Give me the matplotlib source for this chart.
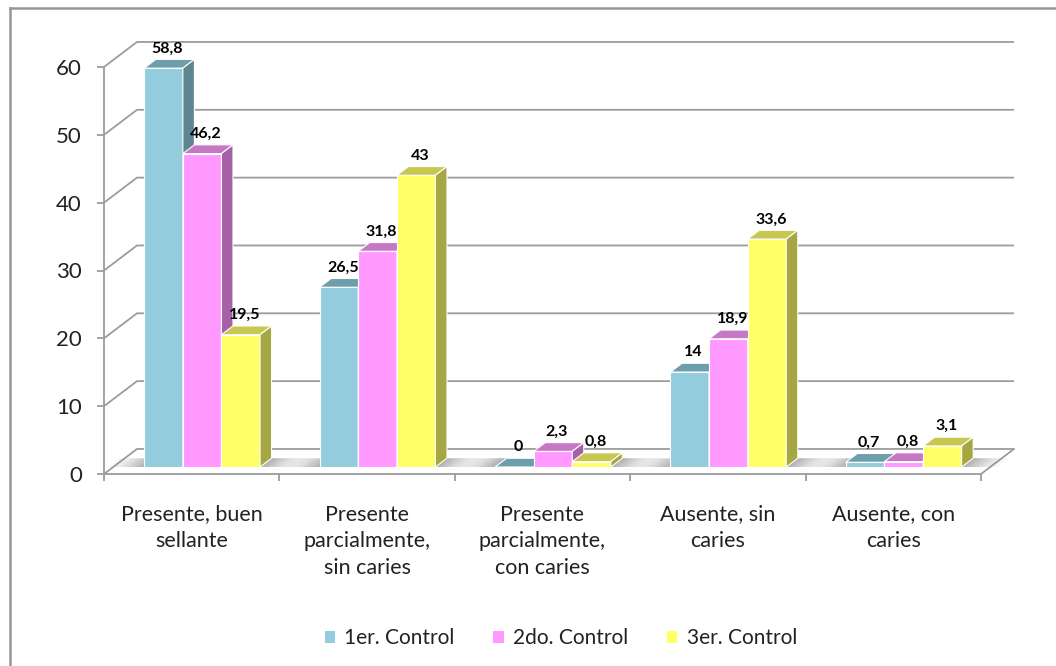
import matplotlib
matplotlib.use("Agg")
import matplotlib.pyplot as plt
from matplotlib.patches import Polygon, Patch
from matplotlib.lines import Line2D

# ---- data -------------------------------------------------------------
categories = [
    "Presente, buen\nsellante",
    "Presente\nparcialmente,\nsin caries",
    "Presente\nparcialmente,\ncon caries",
    "Ausente, sin\ncaries",
    "Ausente, con\ncaries",
]
series_names = ["1er. Control", "2do. Control", "3er. Control"]
control_1 = [58.8, 26.5, 0.0, 14.0, 0.7]
control_2 = [46.2, 31.8, 2.3, 18.9, 0.8]
control_3 = [19.5, 43.0, 0.8, 33.6, 3.1]
y_ticks = [0, 10, 20, 30, 40, 50, 60]

series_values = [control_1, control_2, control_3]

# ---- style ------------------------------------------------------------
front_colors = ["#93CDDD", "#FF99FF", "#FFFF66"]
top_colors = ["#6C9FAB", "#C678C6", "#C8C850"]
side_colors = ["#5E8690", "#A660A6", "#A6A642"]
grid_color = "#9C9C9C"
text_color = "#222222"
FONT = "Lato"

plt.rcParams["font.family"] = [FONT, "DejaVu Sans"]

# oblique projection of the depth axis (in data units)
DX = 0.188          # category units for full depth
DY = 3.69           # value units for full depth
F0, F1 = 0.28, 0.63  # depth range occupied by the columns
BAR_W = 0.22
GROUP_LEFT = 0.177

fig = plt.figure(figsize=(10.56, 6.66), dpi=100)
ax = fig.add_axes([104 / 1056, 192 / 666, 877 / 1056, 407 / 666])
ax.set_xlim(0, 5)
ax.set_ylim(0, 60)
ax.patch.set_alpha(0)


def proj(x, v, d):
    return (x + d * DX, v + d * DY)


# ---- walls & floor ----------------------------------------------------
for v in y_ticks:
    x0, y0 = proj(0, v, 0)
    x1, y1 = proj(0, v, 1)
    x2, y2 = proj(5, v, 1)
    ax.plot([x0, x1, x2], [y0, y1, y2], color=grid_color, lw=1.3,
            clip_on=False, zorder=1, solid_capstyle="butt")
fx0, fy0 = proj(5, 0, 0)
fx1, fy1 = proj(5, 0, 1)
ax.plot([fx0, fx1], [fy0, fy1], color=grid_color, lw=1.3, clip_on=False, zorder=1)

# soft shadows on the floor around each column group
n_steps = 24
fade = 0.22
for i in range(len(categories)):
    gl = i + GROUP_LEFT
    gr = gl + 3 * BAR_W
    for k in range(n_steps):
        a = 0.6 * (1 - k / n_steps) ** 1.4
        for xa, xb in ((gl - fade * (k + 1) / n_steps, gl - fade * k / n_steps),
                       (gr + fade * k / n_steps, gr + fade * (k + 1) / n_steps)):
            pts = [proj(xa, 0, F0), proj(xb, 0, F0), proj(xb, 0, F1), proj(xa, 0, F1)]
            ax.add_patch(Polygon(pts, closed=True, facecolor="#6E6E6E", alpha=a,
                                 edgecolor="none", clip_on=False, zorder=2))

# ---- columns ----------------------------------------------------------
for i in range(len(categories)):
    for s, vals in enumerate(series_values):
        v = vals[i]
        xl = i + GROUP_LEFT + s * BAR_W
        xr = xl + BAR_W
        # front face
        ax.bar(xl + F0 * DX, v, width=BAR_W, bottom=F0 * DY, align="edge",
               color=front_colors[s], edgecolor="white", linewidth=0.8,
               clip_on=False, zorder=3)
        # top face
        top = [proj(xl, v, F0), proj(xr, v, F0), proj(xr, v, F1), proj(xl, v, F1)]
        ax.add_patch(Polygon(top, closed=True, facecolor=top_colors[s],
                             edgecolor="white", linewidth=0.8, clip_on=False, zorder=3))
        # right side face
        side = [proj(xr, 0, F0), proj(xr, v, F0), proj(xr, v, F1), proj(xr, 0, F1)]
        ax.add_patch(Polygon(side, closed=True, facecolor=side_colors[s],
                             edgecolor="white", linewidth=0.8, clip_on=False, zorder=3))
        # value label
        ly = v + F1 * DY
        lx = xl + BAR_W / 2 + (F0 + 0.12) * DX
        ax.annotate(f"{v:g}".replace(".", ","), xy=(lx, ly), xytext=(0, 5),
                    textcoords="offset points", ha="center", va="baseline",
                    fontsize=11.5, fontweight="bold", color="black",
                    annotation_clip=False, zorder=5)

# ---- axes -------------------------------------------------------------
for side in ("top", "right"):
    ax.spines[side].set_visible(False)
for side in ("left", "bottom"):
    ax.spines[side].set_color(grid_color)
    ax.spines[side].set_linewidth(1.3)
    ax.spines[side].set_zorder(1)

ax.set_yticks(y_ticks)
ax.set_yticklabels([str(t) for t in y_ticks])
ax.set_xticks(range(len(categories) + 1))
ax.set_xticklabels([])
ax.tick_params(axis="y", length=5, width=1.3, color=grid_color, pad=11,
               labelsize=16, labelcolor=text_color)
ax.tick_params(axis="x", length=5, width=1.3, color=grid_color)

for i, lab in enumerate(categories):
    ax.annotate(lab, xy=(i + 0.5, 0), xytext=(0, -22), textcoords="offset points",
                ha="center", va="top", multialignment="center", fontsize=15.5,
                color=text_color, linespacing=1.42, annotation_clip=False)

# ---- legend -----------------------------------------------------------
handles = [Patch(facecolor=c, edgecolor="none") for c in front_colors]
fig.legend(handles, series_names, loc="center", bbox_to_anchor=(0.531, 0.042),
           ncol=3, frameon=False, fontsize=15, labelcolor=text_color,
           handlelength=0.5, handleheight=0.5, handletextpad=0.45,
           columnspacing=1.85)

# ---- outer frame ------------------------------------------------------
fx = 10 / 1056
fy = 1 - 8 / 666
fig.add_artist(Line2D([fx, fx], [0, fy], transform=fig.transFigure,
                      color="#969696", lw=1.8))
fig.add_artist(Line2D([fx, 1], [fy, fy], transform=fig.transFigure,
                      color="#969696", lw=1.8))

fig.savefig("out.png", dpi=100)
